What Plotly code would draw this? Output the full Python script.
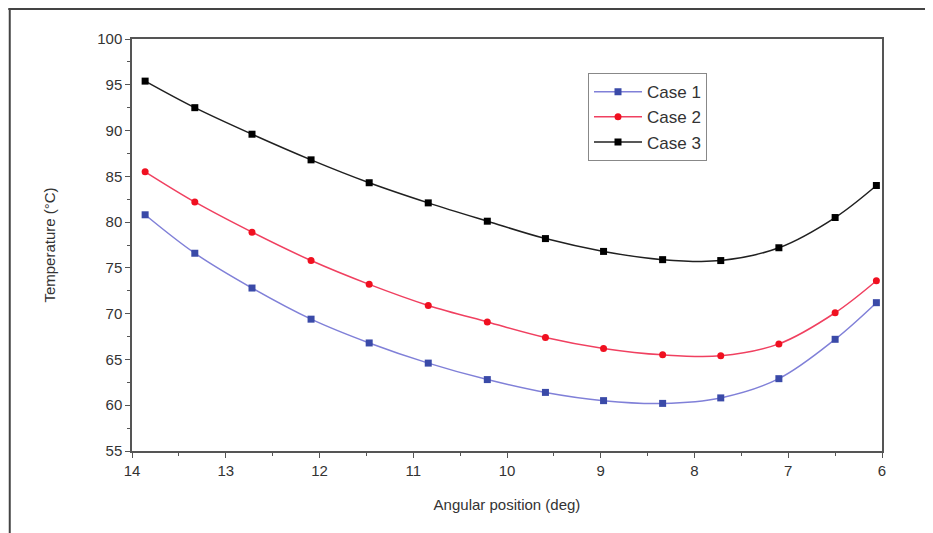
import plotly.graph_objects as go

angle = [13.86, 13.33, 12.72, 12.09, 11.47, 10.84, 10.21, 9.59, 8.97, 8.34, 7.72, 7.10, 6.50, 6.06]
case1 = [80.8, 76.6, 72.8, 69.4, 66.8, 64.6, 62.8, 61.4, 60.5, 60.2, 60.8, 62.9, 67.2, 71.2]
case2 = [85.5, 82.2, 78.9, 75.8, 73.2, 70.9, 69.1, 67.4, 66.2, 65.5, 65.4, 66.7, 70.1, 73.6]
case3 = [95.4, 92.5, 89.6, 86.8, 84.3, 82.1, 80.1, 78.2, 76.8, 75.9, 75.8, 77.2, 80.5, 84.0]

series = [
    ("Case 1", case1, "#8080d8", "#3a4aa8", "square"),
    ("Case 2", case2, "#f04060", "#f01020", "circle"),
    ("Case 3", case3, "#202020", "#000000", "square"),
]

fig = go.Figure()
for name, vals, lc, mc, sym in series:
    fig.add_trace(go.Scatter(
        x=angle, y=vals, name=name, mode="lines+markers",
        line=dict(color=lc, width=1.5, shape="spline", smoothing=1.0),
        marker=dict(color=mc, symbol=sym, size=7),
    ))

FONT = "Liberation Sans, Arial, sans-serif"
axis_common = dict(
    showline=True, linecolor="#555555", linewidth=1.5, mirror=True,
    ticks="outside", ticklen=5, tickcolor="#555555", tickwidth=1,
    showgrid=False, zeroline=False,
    tickfont=dict(family=FONT, size=15, color="#333333"),
    title_font=dict(family=FONT, size=15, color="#333333"),
)

fig.update_xaxes(
    range=[14, 6], tickmode="linear", tick0=6, dtick=1,
    minor=dict(ticks="outside", ticklen=3, dtick=0.5, tickcolor="#555555"),
    title_text="Angular position (deg)", title_standoff=22,
    **axis_common,
)
fig.update_yaxes(
    range=[55, 100], tickmode="linear", tick0=55, dtick=5,
    minor=dict(ticks="outside", ticklen=3, dtick=2.5, tickcolor="#555555"),
    title_text="Temperature (°C)", title_standoff=38,
    **axis_common,
)

fig.update_layout(
    width=933, height=533,
    margin=dict(l=124, r=59, t=31, b=90),
    paper_bgcolor="white", plot_bgcolor="white",
    font=dict(family=FONT, color="#333333"),
    legend=dict(
        x=0.608, y=0.917, xanchor="left", yanchor="top",
        bordercolor="#888888", borderwidth=1, bgcolor="white",
        font=dict(size=17, color="#333333"),
        itemwidth=48,
        tracegroupgap=0,
    ),
    shapes=[
        dict(type="line", xref="paper", yref="paper", x0=-0.165, x1=1.2, y0=1.073, y1=1.073,
             line=dict(color="#444444", width=2)),
        dict(type="line", xref="paper", yref="paper", x0=-0.163, x1=-0.163, y0=1.073, y1=-0.3,
             line=dict(color="#444444", width=2)),
    ],
)

fig.write_html("out.html")
